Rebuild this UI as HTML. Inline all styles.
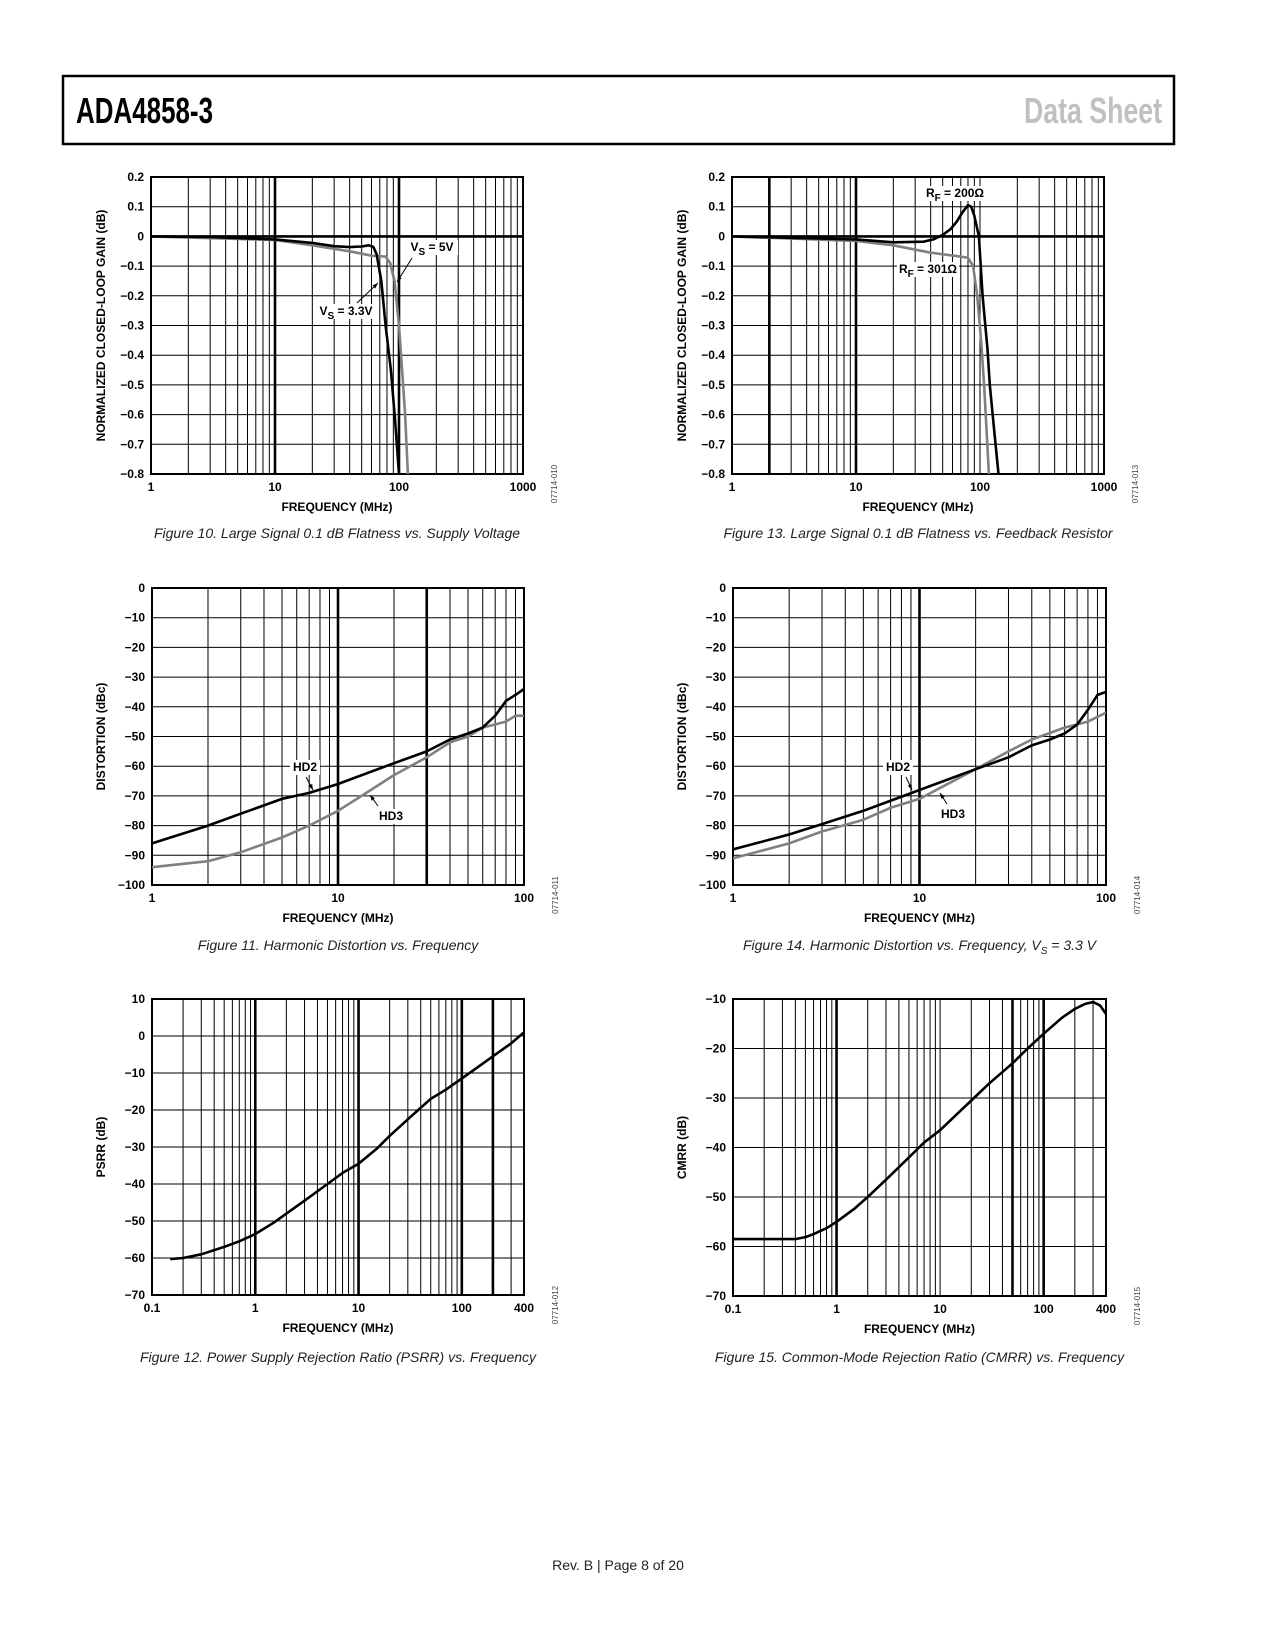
<!DOCTYPE html>
<html><head><meta charset="utf-8"><style>
html,body{margin:0;padding:0;background:#fff}
svg{display:block}
text{font-family:"Liberation Sans",Arial,sans-serif}
.t{font-size:12px;font-weight:bold;fill:#000}
.cap{font-size:14px;font-style:italic;fill:#222}
</style></head><body>
<svg id="pg" width="1275" height="1650" viewBox="0 0 1275 1650" xmlns="http://www.w3.org/2000/svg">
<rect x="63" y="76" width="1111" height="68" fill="none" stroke="#000" stroke-width="2.5"/>
<text x="76" y="123" font-size="36" font-weight="bold" textLength="137" lengthAdjust="spacingAndGlyphs">ADA4858-3</text>
<text x="1162" y="123" font-size="36" font-weight="bold" fill="#c0c0c0" text-anchor="end" textLength="138" lengthAdjust="spacingAndGlyphs">Data Sheet</text>
<text x="618" y="1570" font-size="14" fill="#222" text-anchor="middle">Rev. B | Page 8 of 20</text>
</svg>
<script>
// ---- Figure 10 data ----
const f10BlackX=[1,3,10,20,30,40,50,57,62,66,72,78,86,93,100];
const f10BlackY=[0,-0.002,-0.01,-0.022,-0.033,-0.036,-0.034,-0.03,-0.035,-0.06,-0.15,-0.3,-0.45,-0.62,-0.8];
const f10GrayX=[1,10,20,40,60,78,85,92,100,106,112,118];
const f10GrayY=[0,-0.012,-0.03,-0.05,-0.065,-0.068,-0.09,-0.15,-0.3,-0.45,-0.6,-0.8];
const f10YTicks=["0.2","0.1","0","−0.1","−0.2","−0.3","−0.4","−0.5","−0.6","−0.7","−0.8"];
const f10XTicks=["1","10","100","1000"];
// ---- Figure 13 data ----
const f13BlackX=[1,10,20,35,42,50,58,65,72,80,85,90,98,105,115,120,130,141];
const f13BlackY=[0,-0.01,-0.02,-0.018,-0.01,0.005,0.025,0.05,0.08,0.105,0.1,0.07,0,-0.2,-0.38,-0.5,-0.65,-0.8];
const f13GrayX=[1,10,20,40,70,80,88,95,102,108,118];
const f13GrayY=[0,-0.015,-0.03,-0.055,-0.068,-0.072,-0.1,-0.2,-0.35,-0.5,-0.8];
// ---- Figure 11 data ----
const f11X2=[1,2,3,5,7,10,20,30,40,50,60,70,80,90,100];
const f11HD2=[-86,-80,-76,-71,-69,-66,-59,-55,-51,-49,-47,-43,-38,-36,-34];
const f11X3=[1,2,3,5,7,10,15,20,30,40,50,60,80,90,100];
const f11HD3=[-94,-92,-89,-84,-80,-75,-68,-63,-57,-52,-50,-47,-45,-43,-43];
const distYTicks=["0","−10","−20","−30","−40","−50","−60","−70","−80","−90","−100"];
const distXTicks=["1","10","100"];
// ---- Figure 14 data ----
const f14X2=[1,2,3,5,10,20,30,40,50,60,70,80,90,100];
const f14HD2=[-88,-83,-79.5,-75,-68,-61,-57,-53,-51,-49,-46,-41,-36,-35];
const f14X3=[1,2,3,5,7,10,20,30,40,60,80,100];
const f14HD3=[-91,-86,-82,-78,-74,-71,-61,-55,-51,-47,-45,-42];
// ---- Figure 12 data ----
const psrrX=[0.15,0.2,0.3,0.5,0.7,1,1.5,2,3,5,7,10,15,20,30,50,70,100,150,200,300,400];
const psrrY=[-60.3,-60,-59,-57,-55.5,-53.5,-50.5,-48,-44.5,-40,-37,-34.5,-30.5,-27,-22.5,-17,-14.5,-11.5,-8,-5.5,-2,1];
const psrrYTicks=["10","0","−10","−20","−30","−40","−50","−60","−70"];
const wideXTicks=["0.1","1","10","100","400"];
const wideXVals=[0.1,1,10,100,400];
// ---- Figure 15 data ----
const cmrrX=[0.1,0.4,0.5,0.6,0.8,1,1.5,2,3,5,7,10,15,20,30,50,70,100,150,200,250,300,350,400];
const cmrrY=[-58.5,-58.5,-58.1,-57.5,-56.3,-55,-52.3,-50,-46.5,-42,-39,-36.5,-33,-30.5,-27,-23,-20,-17,-13.8,-12,-11,-10.6,-11.3,-13];
const cmrrYTicks=["−10","−20","−30","−40","−50","−60","−70"];

const NS="http://www.w3.org/2000/svg";
const pg=document.getElementById('pg');
function mk(tag,attrs,parent){const e=document.createElementNS(NS,tag);for(const k in attrs)e.setAttribute(k,attrs[k]);(parent||pg).appendChild(e);return e;}

function chart(o){
  const g=mk('g',{});
  
  
  const L=o.l,R=o.r,T=o.t,B=o.b;
  const lx0=Math.log10(o.xmin),lx1=Math.log10(o.xmax);
  const X=v=>L+(Math.log10(v)-lx0)/(lx1-lx0)*(R-L);
  const Y=v=>T+(o.ymax-v)/(o.ymax-o.ymin)*(B-T);
  for(let d=Math.floor(lx0);d<Math.ceil(lx1);d++){
    for(let m=1;m<10;m++){
      const v=m*Math.pow(10,d);
      if(v<=o.xmin*1.0001||v>=o.xmax*0.9999)continue;
      const thick=o.thick.some(t=>Math.abs(t-v)/v<1e-6);
      const ln=mk('line',{x1:X(v),x2:X(v),y1:T,y2:B,stroke:'#000','stroke-width':thick?2.6:1},g);
      
      
    }
  }
  const n=o.yTicks.length;
  for(let i=0;i<n;i++){
    const v=o.ymax-i*(o.ymax-o.ymin)/(n-1);
    const y=Y(v);
    const thick=o.hthick!==undefined&&Math.abs(v-o.hthick)<1e-9;
    const ln=mk('line',{x1:L,x2:R,y1:y,y2:y,stroke:'#000','stroke-width':thick?2.6:1},g);
    
    
    const tx=mk('text',{x:L-7,y:y+4,'text-anchor':'end',class:'t'},g);
    tx.textContent=o.yTicks[i];
    
    
  }
  const fr=mk('rect',{x:L,y:T,width:R-L,height:B-T,fill:'none',stroke:'#000','stroke-width':2},g);
  
  
  for(let i=0;i<o.xTicks.length;i++){
    const tx=mk('text',{x:X(o.xVals[i]),y:B+17,'text-anchor':'middle',class:'t'},g);
    tx.textContent=o.xTicks[i];
    
    
  }
  const xt=mk('text',{x:(L+R)/2,y:B+37,'text-anchor':'middle',class:'t'},g);
  xt.textContent='FREQUENCY (MHz)';
  
  
  const yt=mk('text',{x:0,y:0,'text-anchor':'middle',class:'t',transform:`translate(${o.ytx},${(T+B)/2}) rotate(-90)`},g);
  yt.textContent=o.yTitle;
  
  
  const code=mk('text',{x:0,y:0,'text-anchor':'middle','font-size':8,fill:'#444',transform:`translate(${R+34},${B+10}) rotate(-90)`},g);
  code.textContent=o.code;
  
  
  const cp=mk('text',{x:(L+R)/2,y:o.capY,'text-anchor':'middle',class:'cap'},g);
  cp.innerHTML=o.caption;
  
  
  const clip=mk('clipPath',{id:'c'+o.name},g);
  mk('rect',{x:L,y:T-1,width:R-L,height:B-T+2},clip);
  o.series.forEach(s=>{
    const d=s.x.map((v,i)=>(i?'L':'M')+X(v).toFixed(1)+','+Y(s.y[i]).toFixed(1)).join('');
    const p=mk('path',{d:d,fill:'none',stroke:s.c,'stroke-width':2.6,'stroke-linejoin':'round','clip-path':`url(#c${o.name})`},g);
    
    
  });
  return {X,Y,g};
}
function label(g,x,y,txt,name,w){
  mk('rect',{x:x-w/2,y:y-11,width:w,height:15,fill:'#fff'},g);
  const t=mk('text',{x:x,y:y,'text-anchor':'middle',class:'t'},g);
  t.innerHTML=txt;
  
  
}
function leader(g,x1,y1,x2,y2){
  const l=mk('line',{x1,y1,x2,y2,stroke:'#000','stroke-width':1},g);
  
  
  const a=Math.atan2(y2-y1,x2-x1),s=6;
  mk('polygon',{points:`${x2},${y2} ${x2-s*Math.cos(a-0.35)},${y2-s*Math.sin(a-0.35)} ${x2-s*Math.cos(a+0.35)},${y2-s*Math.sin(a+0.35)}`,fill:'#000'},g);
}
const flatY=["0.2","0.1","0","−0.1","−0.2","−0.3","−0.4","−0.5","−0.6","−0.7","−0.8"];
const sub=(a,b)=>`${a}<tspan dy="4" font-size="10">${b}</tspan><tspan dy="-4">`;

let c=chart({name:'fig10-chart',l:151,r:523,t:177,b:474,xmin:1,xmax:1000,ymin:-0.8,ymax:0.2,thick:[10,100],hthick:0,
 yTicks:f10YTicks,xTicks:f10XTicks,xVals:[1,10,100,1000],yTitle:'NORMALIZED CLOSED-LOOP GAIN (dB)',ytx:105,code:'07714-010',capY:538,
 caption:'Figure 10. Large Signal 0.1 dB Flatness vs. Supply Voltage',
 series:[{x:f10GrayX,y:f10GrayY,c:'#808080',n:'vs-5v-line'},{x:f10BlackX,y:f10BlackY,c:'#000',n:'vs-3v3-line'}]});
label(c.g,432,251,sub('V','S')+' = 5V</tspan>','label-vs-5v',52);
leader(c.g,412,258,397,282);
label(c.g,346,315,sub('V','S')+' = 3.3V</tspan>','label-vs-3v3',60);
leader(c.g,357,303,378,283);

c=chart({name:'fig13-chart',l:732,r:1104,t:177,b:474,xmin:1,xmax:1000,ymin:-0.8,ymax:0.2,thick:[2,10],hthick:0,
 yTicks:flatY,xTicks:f10XTicks,xVals:[1,10,100,1000],yTitle:'NORMALIZED CLOSED-LOOP GAIN (dB)',ytx:686,code:'07714-013',capY:538,
 caption:'Figure 13. Large Signal 0.1 dB Flatness vs. Feedback Resistor',
 series:[{x:f13GrayX,y:f13GrayY,c:'#808080',n:'rf-301-line'},{x:f13BlackX,y:f13BlackY,c:'#000',n:'rf-200-line'}]});
label(c.g,955,197,sub('R','F')+' = 200Ω</tspan>','label-rf-200',62);
label(c.g,928,273,sub('R','F')+' = 301Ω</tspan>','label-rf-301',62);

c=chart({name:'fig11-chart',l:152,r:524,t:588,b:885,xmin:1,xmax:100,ymin:-100,ymax:0,thick:[10,30],
 yTicks:distYTicks,xTicks:distXTicks,xVals:[1,10,100],yTitle:'DISTORTION (dBc)',ytx:105,code:'07714-011',capY:950,
 caption:'Figure 11. Harmonic Distortion vs. Frequency',
 series:[{x:f11X3,y:f11HD3,c:'#808080',n:'hd3-line'},{x:f11X2,y:f11HD2,c:'#000',n:'hd2-line'}]});
label(c.g,305,771,'HD2','label-hd2',30);
leader(c.g,306,777,313,790);
label(c.g,391,820,'HD3','label-hd3',30);
leader(c.g,378,806,370,795);

c=chart({name:'fig14-chart',l:733,r:1106,t:588,b:885,xmin:1,xmax:100,ymin:-100,ymax:0,thick:[10],
 yTicks:distYTicks,xTicks:distXTicks,xVals:[1,10,100],yTitle:'DISTORTION (dBc)',ytx:686,code:'07714-014',capY:950,
 caption:'Figure 14. Harmonic Distortion vs. Frequency, V<tspan dy="4" font-size="10">S</tspan><tspan dy="-4"> = 3.3 V</tspan>',
 series:[{x:f14X3,y:f14HD3,c:'#808080',n:'hd3-line'},{x:f14X2,y:f14HD2,c:'#000',n:'hd2-line'}]});
label(c.g,898,771,'HD2','label-hd2',30);
leader(c.g,906,777,912,790);
label(c.g,953,818,'HD3','label-hd3',30);
leader(c.g,947,804,940,793);

chart({name:'fig12-chart',l:152,r:524,t:999,b:1295,xmin:0.1,xmax:400,ymin:-70,ymax:10,thick:[1,10,100,200],
 yTicks:psrrYTicks,xTicks:wideXTicks,xVals:wideXVals,yTitle:'PSRR (dB)',ytx:105,code:'07714-012',capY:1362,
 caption:'Figure 12. Power Supply Rejection Ratio (PSRR) vs. Frequency',
 series:[{x:psrrX,y:psrrY,c:'#000',n:'psrr-line'}]});

chart({name:'fig15-chart',l:733,r:1106,t:999,b:1296,xmin:0.1,xmax:400,ymin:-70,ymax:-10,thick:[1,50,100],
 yTicks:cmrrYTicks,xTicks:wideXTicks,xVals:wideXVals,yTitle:'CMRR (dB)',ytx:686,code:'07714-015',capY:1362,
 caption:'Figure 15. Common-Mode Rejection Ratio (CMRR) vs. Frequency',
 series:[{x:cmrrX,y:cmrrY,c:'#000',n:'cmrr-line'}]});
</script>
</body></html>
